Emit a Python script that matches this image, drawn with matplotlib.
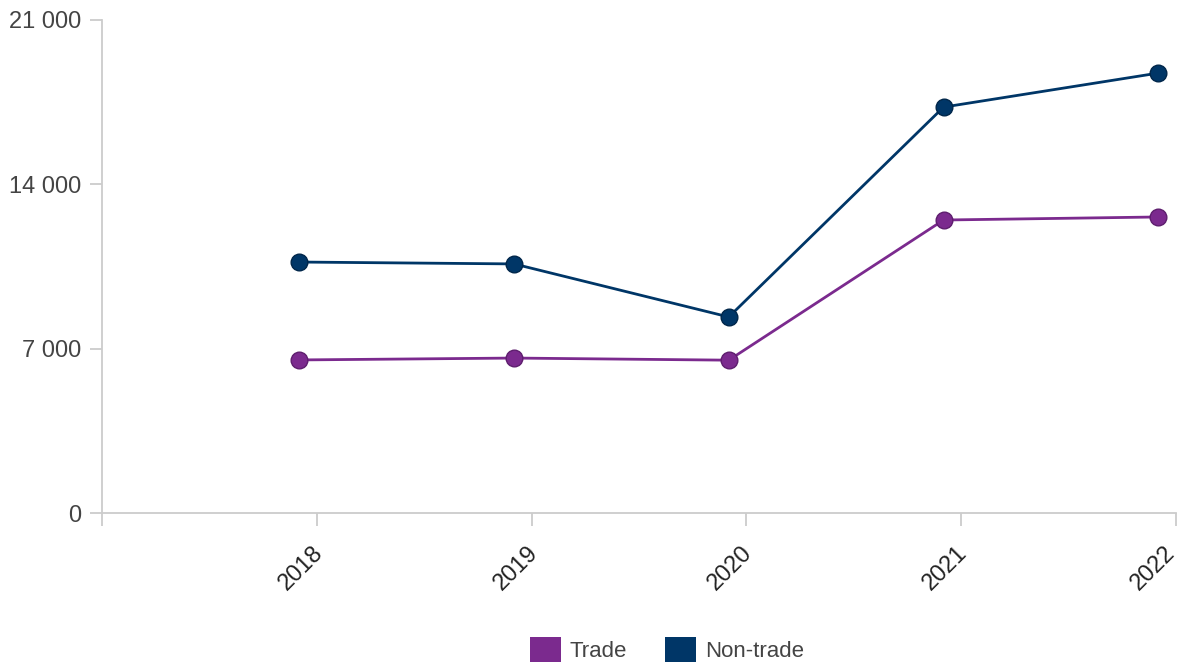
import matplotlib.pyplot as plt
import matplotlib.transforms as mtransforms
from matplotlib.patches import Patch
from matplotlib.ticker import FuncFormatter

plt.rcParams['font.family'] = ['Liberation Sans', 'DejaVu Sans']

# data
years = [2018, 2019, 2020, 2021, 2022]
trade = [6520, 6600, 6510, 12480, 12610]
non_trade = [10690, 10610, 8350, 17290, 18740]

c_trade = '#7b2a8e'
c_non = '#003667'

# points sit about a month before the year tick
x = [y - 0.082 for y in years]

fig = plt.figure(figsize=(11.84, 6.66), dpi=100)
ax = fig.add_axes([102 / 1184, 153 / 666, 1074 / 1184, 493 / 666])

ax.plot(x, trade, color=c_trade, lw=2.0, marker='o', ms=12,
        mfc=c_trade, mec='#5e1e6e', mew=1.0, zorder=3)
ax.plot(x, non_trade, color=c_non, lw=2.0, marker='o', ms=12,
        mfc=c_non, mec='#00264a', mew=1.0, zorder=3)

ax.set_xlim(2017, 2022)
ax.set_ylim(0, 21000)
ax.set_xticks([2017] + years)
ax.set_xticklabels([''] + [str(y) for y in years], rotation=45,
                   ha='right', rotation_mode='anchor')
ax.set_yticks([0, 7000, 14000, 21000])
ax.yaxis.set_major_formatter(FuncFormatter(lambda v, p: f'{int(v):,}'.replace(',', ' ')))

for s in ['top', 'right']:
    ax.spines[s].set_visible(False)
for s in ['left', 'bottom']:
    ax.spines[s].set_color('#cccccc')
    ax.spines[s].set_linewidth(1.3)

ax.tick_params(axis='y', length=9, width=1.3, color='#cccccc', labelsize=17,
               labelcolor='#444444', pad=6)
ax.tick_params(axis='x', length=9, width=1.3, color='#cccccc', labelsize=17,
               labelcolor='#222222', pad=9)

# nudge x labels a bit left/down; the last one a bit more so it stays on canvas
labels = ax.get_xticklabels()
for i, lbl in enumerate(labels):
    dx = -12 if i == len(labels) - 1 else -5
    shift = mtransforms.ScaledTranslation(dx / 100, -4 / 100, fig.dpi_scale_trans)
    lbl.set_transform(lbl.get_transform() + shift)

handles = [Patch(facecolor=c_trade, label='Trade'),
           Patch(facecolor=c_non, label='Non-trade')]
leg = fig.legend(handles=handles, loc='center', bbox_to_anchor=(0.563, 0.025),
                 ncol=2, frameon=False, fontsize=16, handlelength=1.4,
                 handleheight=1.4, handletextpad=0.4, columnspacing=1.7,
                 labelcolor='#444444')

fig.savefig('out.png', dpi=100)
